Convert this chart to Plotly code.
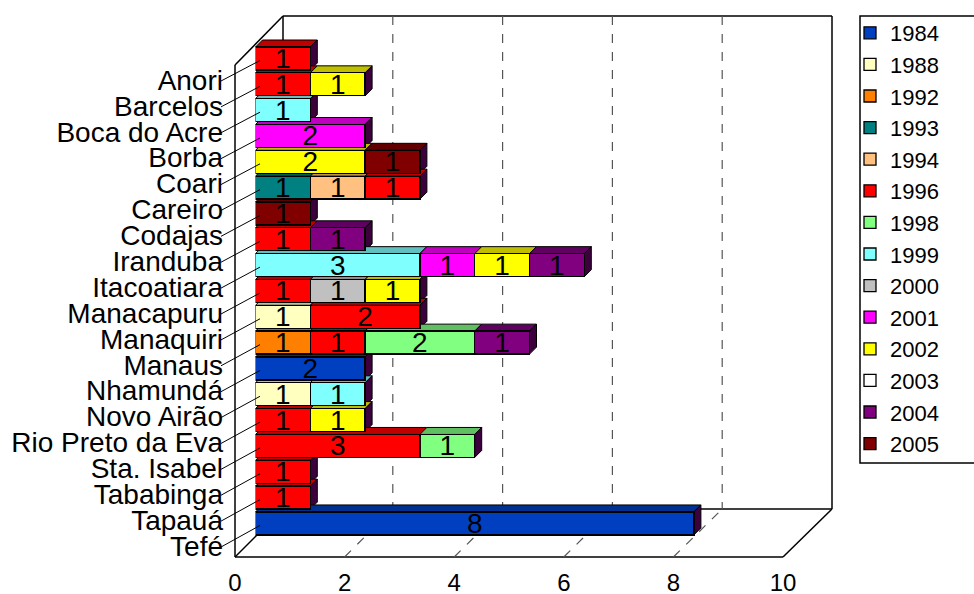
import plotly.graph_objects as go

# ---------------- data ----------------
categories = ["Anori", "Barcelos", "Boca do Acre", "Borba", "Coari", "Careiro",
              "Codajas", "Iranduba", "Itacoatiara", "Manacapuru", "Manaquiri",
              "Manaus", "Nhamundá", "Novo Airão", "Rio Preto da Eva",
              "Sta. Isabel", "Tababinga", "Tapauá", "Tefé"]

years = ["1984", "1988", "1992", "1993", "1994", "1996", "1998", "1999",
         "2000", "2001", "2002", "2003", "2004", "2005"]

N = None
v1984 = [N, N, N, N, N, N, N, N, N, N, N, N, 2, N, N, N, N, N, 8]
v1988 = [N, N, N, N, N, N, N, N, N, N, 1, N, N, 1, N, N, N, N, N]
v1992 = [N, N, N, N, N, N, N, N, N, N, N, 1, N, N, N, N, N, N, N]
v1993 = [N, N, N, N, N, 1, N, N, N, N, N, N, N, N, N, N, N, N, N]
v1994 = [N, N, N, N, N, 1, N, N, N, N, N, N, N, N, N, N, N, N, N]
v1996 = [1, 1, N, N, N, 1, N, 1, N, 1, 2, 1, N, N, 1, 3, 1, 1, N]
v1998 = [N, N, N, N, N, N, N, N, N, N, N, 2, N, N, N, 1, N, N, N]
v1999 = [N, N, 1, N, N, N, N, N, 3, N, N, N, N, 1, N, N, N, N, N]
v2000 = [N, N, N, N, N, N, N, N, N, 1, N, N, N, N, N, N, N, N, N]
v2001 = [N, N, N, 2, N, N, N, N, 1, N, N, N, N, N, N, N, N, N, N]
v2002 = [N, 1, N, N, 2, N, N, N, 1, 1, N, N, N, N, 1, N, N, N, N]
v2003 = [N, N, N, N, N, N, N, N, N, N, N, N, N, N, N, N, N, N, N]
v2004 = [N, N, N, N, N, N, N, 1, 1, N, N, 1, N, N, N, N, N, N, N]
v2005 = [N, N, N, N, 1, N, 1, N, N, N, N, N, N, N, N, N, N, N, N]

series = [v1984, v1988, v1992, v1993, v1994, v1996, v1998, v1999,
          v2000, v2001, v2002, v2003, v2004, v2005]

colors = ["#0040C0", "#FFFFC0", "#FF8000", "#008080", "#FFC080", "#FF0000",
          "#80FF80", "#80FFFF", "#C0C0C0", "#FF00FF", "#FFFF00", "#FFFFFF",
          "#800080", "#800000"]

xticks = [0, 2, 4, 6, 8, 10]

# ---------------- layout helpers ----------------
W, H = 974, 594
FONT = "Liberation Sans, Arial, sans-serif"


def px(x):
    return x / W


def py(y):
    return 1 - y / H


def darker(hexc, f=0.75):
    r, g, b = int(hexc[1:3], 16), int(hexc[3:5], 16), int(hexc[5:7], 16)
    return "rgb(%d,%d,%d)" % (r * f, g * f, b * f)


fig = go.Figure()

BARW = 0.89
for yr, vals, col in zip(years, series, colors):
    fig.add_trace(go.Bar(
        y=categories, x=vals, orientation="h", name=yr,
        marker=dict(color=col, line=dict(color="black", width=1.3)),
        width=BARW,
        text=[("%d" % v) if v is not None else None for v in vals],
        textposition="inside", insidetextanchor="middle", textangle=0,
        constraintext="none",
        textfont=dict(family=FONT, size=28, color="black"),
        xaxis="x", yaxis="y", hoverinfo="x+name",
    ))

# invisible trace carrying the front-plane category labels / ticks
fig.add_trace(go.Scatter(
    x=[0] * len(categories), y=categories, mode="markers",
    marker=dict(opacity=0), showlegend=False, hoverinfo="skip",
    xaxis="x2", yaxis="y2",
))

# ---------------- 3D frame ----------------
shapes = []
line = dict(color="black", width=1.5)
dash = dict(color="#555555", width=1.2, dash="dash")
X0F, X10F, YF = 235, 783, 557          # front floor
X0B, X10B, YB, YT = 283, 832, 509, 16  # back wall


def seg(x0, y0, x1, y1, ln, layer="below"):
    shapes.append(dict(type="line", xref="paper", yref="paper",
                       x0=px(x0), y0=py(y0), x1=px(x1), y1=py(y1),
                       line=ln, layer=layer))


# back wall
seg(X0B, YT, X10B, YT, line)
seg(X10B, YT, X10B, YB, line)
seg(X0B, YT, X0B, YB, line)
seg(X0B, YB, X10B, YB, line)
# left wall
seg(X0F, 65, X0B, YT, line)
seg(X0F, 65, X0F, YF, line)
seg(X0F, YF, X0B, YB, line)
# floor
seg(X0F, YF, X10F, YF, line)
seg(X10F, YF, X10B, YB, line)
# dashed grid on wall and floor
for t in xticks[1:-1]:
    xb = X0B + (X10B - X0B) * t / 10
    xf = X0F + (X10F - X0F) * t / 10
    seg(xb, YT, xb, YB, dash)
    seg(xf, YF, xb, YB, dash)

# ---------------- bar 3D faces (top and side) ----------------
DX = 7 / 54.8      # x units per 7 px
DY = 7 / 25.83     # category units per 7 px
HW = BARW / 2
SIDE = "#3C003C"
for i in range(len(categories)):
    cum = 0
    for vals, col in zip(series, colors):
        v = vals[i]
        if v is None:
            continue
        x0, x1 = cum, cum + v
        yt = i - HW
        shapes.append(dict(
            type="path", xref="x", yref="y", layer="below",
            path="M %f,%f L %f,%f L %f,%f L %f,%f Z" % (
                x0, yt, x1, yt, x1 + DX, yt - DY, x0 + DX, yt - DY),
            fillcolor=darker(col), line=dict(color="black", width=1)))
        cum = x1
    if cum > 0:
        yt = i - HW
        yb = i + HW
        shapes.append(dict(
            type="path", xref="x", yref="y", layer="below",
            path="M %f,%f L %f,%f L %f,%f L %f,%f Z" % (
                cum, yt, cum + DX, yt - DY, cum + DX, yb - DY, cum, yb),
            fillcolor=SIDE, line=dict(color="black", width=1)))

# ---------------- leader lines from labels to bars ----------------
BAR_TOP_C, BAR_STEP = 58.5, 25.83
LAB_TOP_C, LAB_STEP = 80.0, 25.89
for i in range(len(categories)):
    yl = LAB_TOP_C + i * LAB_STEP
    yb = BAR_TOP_C + i * BAR_STEP
    seg(221, yl + 1, 260, yb + 2, dict(color="black", width=1), layer="above")

# legend frame
shapes.append(dict(type="rect", xref="paper", yref="paper",
                   x0=px(860), y0=py(16), x1=px(990), y1=py(463),
                   line=dict(color="black", width=1.5), layer="below"))

# ---------------- axes ----------------
bar_top = BAR_TOP_C - 0.85 * BAR_STEP
bar_bot = BAR_TOP_C + 18.5 * BAR_STEP
lab_top = LAB_TOP_C - 0.5 * LAB_STEP
lab_bot = LAB_TOP_C + 18.5 * LAB_STEP

fig.update_layout(
    template="none",
    width=W, height=H, autosize=False,
    margin=dict(l=0, r=0, t=0, b=0, pad=0),
    paper_bgcolor="white", plot_bgcolor="rgba(0,0,0,0)",
    barmode="stack", bargap=0.11,
    font=dict(family=FONT, color="black"),
    shapes=shapes,
    xaxis=dict(domain=[px(255.5), px(255.5 + 548)], range=[0, 10],
               visible=False, fixedrange=True, automargin=False),
    yaxis=dict(domain=[py(bar_bot), py(bar_top)], range=[18.5, -0.85],
               type="category", categoryorder="array", categoryarray=categories,
               visible=False, fixedrange=True, automargin=False),
    xaxis2=dict(domain=[px(X0F), px(X10F)], range=[0, 10], anchor="free",
                position=py(YF), tickmode="array", tickvals=xticks, ticks="",
                showgrid=False, zeroline=False, showline=False,
                ticklabelstandoff=9, automargin=False, fixedrange=True,
                tickfont=dict(family=FONT, size=24, color="black")),
    yaxis2=dict(domain=[py(lab_bot), py(lab_top)], range=[18.5, -0.5],
                type="category", categoryorder="array", categoryarray=categories,
                tickmode="array", tickvals=categories, ticktext=categories,
                anchor="free", position=px(223), side="left", ticks="",
                showgrid=False, zeroline=False, showline=False,
                automargin=False, fixedrange=True,
                tickfont=dict(family=FONT, size=28, color="black")),
    legend=dict(x=px(850), y=py(12), xanchor="left", yanchor="top",
                traceorder="normal", bgcolor="rgba(0,0,0,0)", borderwidth=0,
                font=dict(family=FONT, size=22, color="black"),
                itemwidth=30),
    showlegend=True,
)

fig.write_html("out.html",
               config={"displayModeBar": False},
               post_script="document.body.style.margin='0';"
                           "document.body.style.overflow='hidden';")
